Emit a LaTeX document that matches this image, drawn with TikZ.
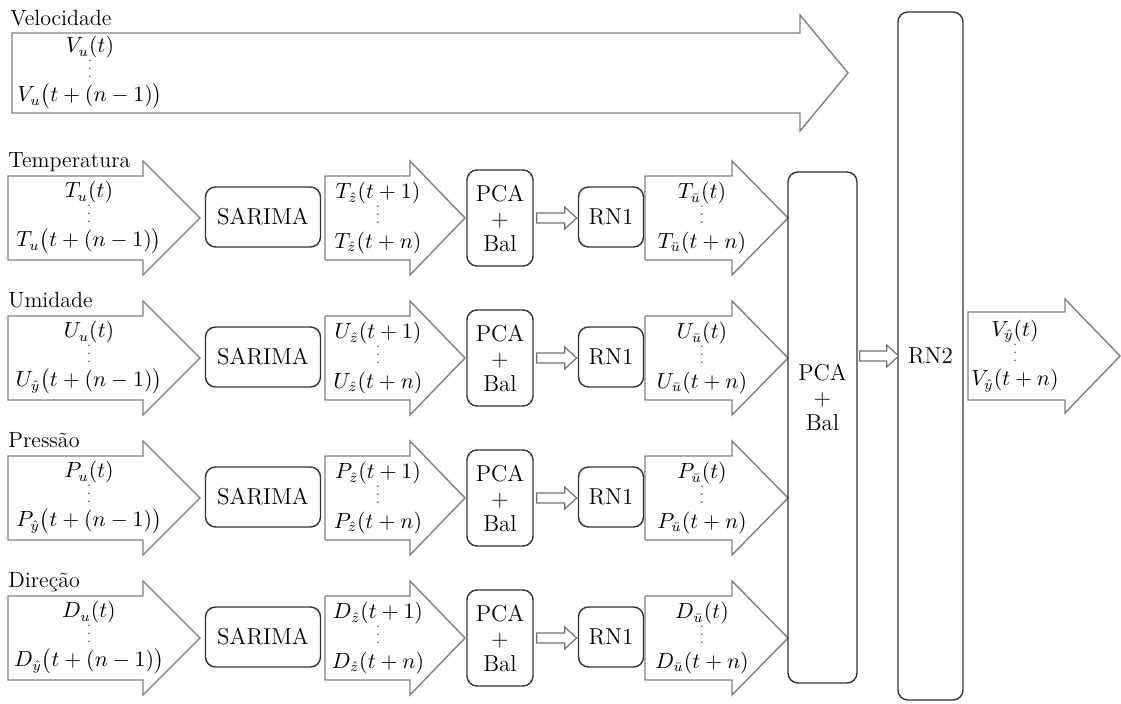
\documentclass[tikz,border=0pt]{standalone}
\usepackage{amsmath, amssymb}
\usepackage{xcolor}
\usepackage{tikz}
\usetikzlibrary{positioning, calc}

% wide outlined arrow: x start, x head, x tip, y centre, shaft half, head half
\newcommand{\blockarrow}[6]{%
  \draw[bigarr] (#1,#4-#5) -- (#2,#4-#5) -- (#2,#4-#6) -- (#3,#4)
    -- (#2,#4+#6) -- (#2,#4+#5) -- (#1,#4+#5) -- cycle;}
\newcommand{\vd}{{\fontsize{5.5}{5.5}\selectfont$\vdots$}}
\newcommand{\tightlines}{\lineskiplimit=-20pt\relax}

\begin{document}
\begin{tikzpicture}[
  x=0.5pt, y=-0.5pt,
  box/.style={rectangle, draw=black!80, line width=0.7pt, rounded corners=5pt, font=\fontsize{11.5}{12.5}\selectfont, align=center, inner sep=0pt},
  bigarr/.style={draw=black!50, line width=0.7pt, fill=white},
  hollow/.style={draw=black!55, line width=0.6pt, fill=white},
  lbl/.style={anchor=base west, font=\fontsize{11}{13}\selectfont, inner sep=0pt},
  vals/.style={font=\fontsize{10.5}{12.3}\selectfont\tightlines, align=center, inner sep=0pt},
]
  \useasboundingbox (0,0) rectangle (1121,704);

  % Velocity goes straight to RN2
  \node[lbl] (labV) at (10,26) {Velocidade};
  \blockarrow{12}{800}{848}{73}{40}{58}
  \node[vals] (inV) at (90,73) {$V_u(t)$\\ \vd\\ $V_u\bigl(t+(n-1)\bigr)$};

  % one row per variable
  \foreach \v/\lab/\sb [count=\i] in {T/Temperatura/u, U/Umidade/\hat{y}, P/Pressão/\hat{y}, D/Direção/\hat{y}} {
    \pgfmathsetmacro\yc{78+140*\i}
    \node[lbl] (lab\i) at (8,\yc-50) {\lab};
    \blockarrow{8}{143}{200}{\yc}{42}{57}
    \node[vals] (in\i) at (89,\yc) {$\v_u(t)$\\ \vd\\ $\v_{\sb}\bigl(t+(n-1)\bigr)$};
    \node[box, minimum width=57.5pt, minimum height=30pt] (sar\i) at (263,\yc-1) {SARIMA};
    \blockarrow{325}{410}{465}{\yc}{42}{57}
    \node[vals] (mid\i) at (378,\yc) {$\v_{\hat z}(t+1)$\\ \vd\\ $\v_{\hat z}(t+n)$};
    \node[box, minimum width=33pt, minimum height=48pt] (pca\i) at (500,\yc) {PCA\\+\\Bal};
    \node[box, minimum width=32.5pt, minimum height=30pt] (rn\i) at (611,\yc-1) {RN1};
    \draw[hollow] (pca\i.east) ++(3,-5) -- ++(28,0) -- ++(0,-6) -- ++(12,11)
      -- ++(-12,11) -- ++(0,-6) -- ++(-28,0) -- cycle;
    \blockarrow{645}{732}{788}{\yc}{42}{57}
    \node[vals] (out\i) at (702,\yc) {$\v_{\bar u}(t)$\\ \vd\\ $\v_{\bar u}(t+n)$};
  }

  % merge and final network
  \node[box, minimum width=34.5pt, minimum height=255.5pt] (pcaB) at (822.5,427.5) {};
  \node[font=\fontsize{11.5}{12.5}\selectfont, align=center] (pcaBtxt) at (822.5,397) {PCA\\+\\Bal};
  \node[box, minimum width=32.5pt, minimum height=344pt] (rn2) at (930.5,356) {RN2};
  \draw[hollow] (pcaB.east |- rn2.west) ++(2,-5) -- ++(27,0) -- ++(0,-6) -- ++(12,11)
    -- ++(-12,11) -- ++(0,-6) -- ++(-27,0) -- cycle;

  % output
  \blockarrow{968}{1065}{1120}{356}{44}{57}
  \node[vals] (outV) at (1015,356) {$V_{\hat y}(t)$\\ \vd\\ $V_{\hat y}(t+n)$};
\end{tikzpicture}
\end{document}
